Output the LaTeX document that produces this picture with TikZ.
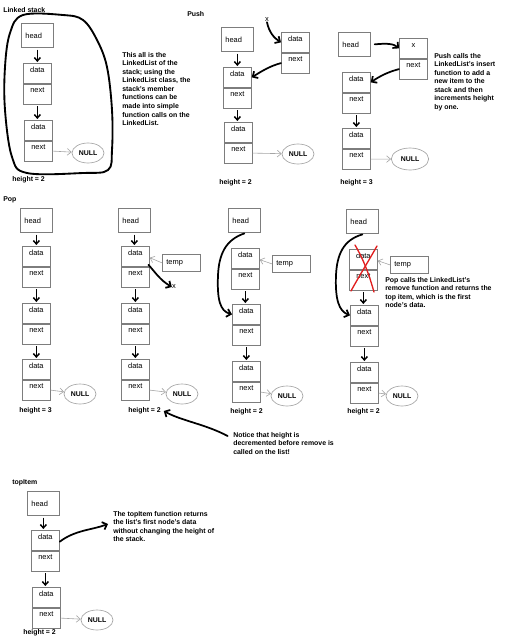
\documentclass[tikz,border=0pt]{standalone}
\usepackage{fontspec}
\setmainfont{Liberation Sans}
\usetikzlibrary{shapes.geometric,arrows.meta}
\definecolor{boxgray}{RGB}{125,125,125}
\definecolor{arrgray}{RGB}{165,165,165}
\definecolor{xred}{RGB}{225,30,30}
\newcommand\lblfont{\fontsize{5.6pt}{6.4pt}\selectfont}
\newcommand\txtfont{\fontsize{5.2pt}{6.4pt}\selectfont\bfseries}
\newcommand\LLnode[4]{\node[half,anchor=north west] (#1d) at (#2,#3) {#4};\node[half,anchor=north] (#1n) at (#1d.south) {next};}
\begin{document}
\begin{tikzpicture}[x=0.75pt,y=-0.75pt,
  half/.style={draw=boxgray, line width=0.55pt, minimum width=21pt, minimum height=15pt, inner ysep=0pt, inner xsep=1pt, text height=3.9pt, text depth=5.8pt, font=\lblfont},
  headbox/.style={draw=boxgray, line width=0.55pt, minimum width=24pt, minimum height=18pt, text width=18pt, inner xsep=3pt, align=left, font=\lblfont},
  tempbox/.style={draw=boxgray, line width=0.55pt, minimum width=28.5pt, minimum height=12.75pt, text width=22.5pt, inner xsep=3pt, align=left, font=\lblfont},
  nullnode/.style={ellipse, draw=arrgray, line width=0.5pt, minimum width=24pt, minimum height=15pt, inner sep=0pt, font=\txtfont},
  txt/.style={align=left, inner sep=0pt, font=\txtfont},
  lbl/.style={inner sep=0pt, font=\lblfont},
  darr/.style={-{Straight Barb[length=2.5pt,width=4.5pt]}, line width=1.1pt, black},
  garr/.style={-{Straight Barb[length=3pt,width=5pt]}, draw=arrgray, line width=0.45pt},
  hand/.style={line width=1.3pt, line cap=round, line join=round, -{Straight Barb[length=3pt,width=6pt]}}
]
\fill[white] (0,0) rectangle (515,640);
\useasboundingbox (0,0) rectangle (515,640);

% ---------------- Linked stack ----------------
\node[txt, anchor=west] (title1) at (3,10) {Linked stack};
\node[headbox, anchor=north west] (h1) at (21,23) {head};
\LLnode{a1}{23}{63}{data}
\LLnode{b1}{24}{120}{data}
\node[nullnode] (null1) at (88,153) {NULL};
\node[txt, anchor=west] (ht1) at (12,180) {height = 2};
\draw[darr] ([yshift=-1.5pt]h1.south) -- ([yshift=0.75pt]h1.south |- a1d.north);
\draw[darr] ([yshift=-1.5pt]a1n.south) -- ([yshift=0.75pt]a1n.south |- b1d.north);
\draw[garr] (b1n.east) -- (null1);
\draw[line width=1.4pt, line join=round] plot[smooth cycle, tension=0.6] coordinates {(23,15) (63,15) (83,20) (97,40) (107,67) (112,110) (112,150) (108,170) (83,173) (27,173) (12,157) (5,110) (5,67) (10,33)};
\node[txt, anchor=north west] (t1) at (122,52) {This all is the\\LinkedList of the\\stack; using the\\LinkedList class, the\\stack's member\\functions can be\\made into simple\\function calls on the\\LinkedList.};

% ---------------- Push (middle) ----------------
\node[txt, anchor=west] (title2) at (187,14) {Push};
\node[headbox, anchor=north west] (h2) at (221,27) {head};
\LLnode{n2}{281}{32}{data}
\LLnode{a2}{223}{67}{data}
\LLnode{b2}{224}{122}{data}
\node[nullnode] (null2) at (298,154) {NULL};
\node[txt, anchor=west] (ht2) at (219,183) {height = 2};
\node[lbl] (x2) at (267,20) {x};
\draw[hand] (x2.south) .. controls (269,32) and (274,38) .. (n2d.west);
\draw[hand] (n2n.west) .. controls (270,66) and (262,71) .. (a2d.east);
\draw[darr] ([yshift=-1.5pt]h2.south) -- ([yshift=0.75pt]h2.south |- a2d.north);
\draw[darr] ([yshift=-1.5pt]a2n.south) -- ([yshift=0.75pt]a2n.south |- b2d.north);
\draw[garr] (b2n.east) -- (null2);

% ---------------- Push (right) ----------------
\node[headbox, anchor=north west] (h3) at (338,32) {head};
\LLnode{x3}{399}{38}{x}
\LLnode{a3}{342}{72}{data}
\LLnode{b3}{342}{128}{data}
\node[nullnode, minimum width=28pt, minimum height=16.5pt] (null3) at (410,159) {NULL};
\node[txt, anchor=west] (ht3) at (340,183) {height = 3};
\draw[hand] ([xshift=3pt]h3.east) .. controls (388,43) and (394,44) .. (x3d.west);
\draw[hand] (x3n.west) .. controls (388,72) and (380,76) .. (a3d.east);
\draw[darr] ([yshift=-1.5pt]a3n.south) -- ([yshift=0.75pt]a3n.south |- b3d.north);
\draw[garr] (b3n.east) -- (null3);
\node[txt, anchor=north west] (t3) at (434,53) {Push calls the\\LinkedList's insert\\function to add a\\new item to the\\stack and then\\increments height\\by one.};

% ---------------- Pop 1 ----------------
\node[txt, anchor=west] (title3) at (3,200) {Pop};
\node[headbox, anchor=north west] (p1h) at (20,208) {head};
\LLnode{p1a}{22}{246}{data}
\LLnode{p1b}{22}{303}{data}
\LLnode{p1c}{22}{359}{data}
\node[nullnode] (null4) at (80,394) {NULL};
\node[txt, anchor=west] (ht4) at (19,411) {height = 3};
\draw[darr] ([yshift=-1.5pt]p1h.south) -- ([yshift=0.75pt]p1h.south |- p1ad.north);
\draw[darr] ([yshift=-1.5pt]p1an.south) -- ([yshift=0.75pt]p1an.south |- p1bd.north);
\draw[darr] ([yshift=-1.5pt]p1bn.south) -- ([yshift=0.75pt]p1bn.south |- p1cd.north);
\draw[garr] (p1cn.east) -- (null4);

% ---------------- Pop 2 ----------------
\node[headbox, anchor=north west] (p2h) at (118,208) {head};
\LLnode{p2a}{121}{246}{data}
\LLnode{p2b}{121}{303}{data}
\LLnode{p2c}{121}{359}{data}
\node[tempbox, anchor=north west] (tmp2) at (162,254) {temp};
\node[nullnode] (null5) at (182,394) {NULL};
\node[txt, anchor=west] (ht5) at (128,411) {height = 2};
\draw[darr] ([yshift=-1.5pt]p2h.south) -- ([yshift=0.75pt]p2h.south |- p2ad.north);
\draw[darr] ([yshift=-1.5pt]p2an.south) -- ([yshift=0.75pt]p2an.south |- p2bd.north);
\draw[darr] ([yshift=-1.5pt]p2bn.south) -- ([yshift=0.75pt]p2bn.south |- p2cd.north);
\draw[garr] (p2cn.east) -- (null5);
\draw[garr] (tmp2.west) -- ([yshift=-1pt]p2ad.east);
\node[lbl] (xp2) at (174,287) {x};
\draw[hand] ([shift={(-1pt,1.5pt)}]p2ad.south east) .. controls (155,272) and (160,280) .. (xp2.west);
\node[txt, anchor=north west] (nt) at (233,432) {Notice that height is\\decremented before remove is\\called on the list!};
\draw[hand] ([shift={(-4pt,-3pt)}]nt.north west) .. controls (205,424) and (182,421) .. ([xshift=2pt]ht5.east);

% ---------------- Pop 3 ----------------
\node[headbox, anchor=north west] (p3h) at (228,208) {head};
\LLnode{p3a}{231}{248}{data}
\LLnode{p3b}{232}{304}{data}
\LLnode{p3c}{232}{361}{data}
\node[tempbox, anchor=north west] (tmp3) at (272,255) {temp};
\node[nullnode] (null6) at (287,396) {NULL};
\node[txt, anchor=west] (ht6) at (230,412) {height = 2};
\draw[darr] ([yshift=-1.5pt]p3an.south) -- ([yshift=0.75pt]p3an.south |- p3bd.north);
\draw[darr] ([yshift=-1.5pt]p3bn.south) -- ([yshift=0.75pt]p3bn.south |- p3cd.north);
\draw[garr] (p3cn.east) -- (null6);
\draw[garr] (tmp3.west) -- ([yshift=-1pt]p3ad.east);
\draw[hand] ([yshift=-0.5pt]p3h.south) .. controls (225,240) and (219,255) .. (218,275) .. controls (217,300) and (220,311) .. (p3bd.west);

% ---------------- Pop 4 ----------------
\node[headbox, anchor=north west] (p4h) at (346,209) {head};
\LLnode{p4a}{349}{249}{data}
\LLnode{p4b}{350}{305}{data}
\LLnode{p4c}{350}{362}{data}
\node[tempbox, anchor=north west] (tmp4) at (390,256) {temp};
\node[nullnode] (null7) at (402,396) {NULL};
\node[txt, anchor=west] (ht7) at (347,412) {height = 2};
\draw[darr] ([yshift=-1.5pt]p4an.south) -- ([yshift=0.75pt]p4an.south |- p4bd.north);
\draw[darr] ([yshift=-1.5pt]p4bn.south) -- ([yshift=0.75pt]p4bn.south |- p4cd.north);
\draw[garr] (p4cn.east) -- (null7);
\draw[garr] (tmp4.west) -- ([yshift=-1pt]p4ad.east);
\draw[hand] ([yshift=-0.5pt]p4h.south) .. controls (343,240) and (337,255) .. (336,275) .. controls (335,300) and (339,311) .. (p4bd.west);
\draw[xred, line width=1pt, line cap=round] (355,245) .. controls (365,262) and (370,278) .. (374,292);
\draw[xred, line width=1pt, line cap=round] (377,246) .. controls (368,262) and (358,278) .. (351,291);
\node[txt, anchor=north west] (t4) at (385,277) {Pop calls the LinkedList's\\remove function and returns the\\top item, which is the first\\node's data.};

% ---------------- topItem ----------------
\node[txt, anchor=west] (title4) at (12,483) {topItem};
\node[headbox, anchor=north west] (th) at (27,491) {head};
\LLnode{ta}{31}{530}{data}
\LLnode{tb}{32}{587}{data}
\node[nullnode] (null8) at (97,620) {NULL};
\node[txt, anchor=west] (ht8) at (23,633) {height = 2};
\draw[darr] ([yshift=-1.5pt]th.south) -- ([yshift=0.75pt]th.south |- tad.north);
\draw[darr] ([yshift=-1.5pt]tan.south) -- ([yshift=0.75pt]tan.south |- tbd.north);
\draw[garr] (tbn.east) -- (null8);
\coordinate (ttip) at (108,524);
\draw[hand] ([yshift=-1pt]tad.east) .. controls (75,530) and (92,530) .. (ttip);
\node[txt, anchor=north west] (t5) at (113,511) {The topItem function returns\\the list's first node's data\\without changing the height of\\the stack.};
\end{tikzpicture}
\end{document}
